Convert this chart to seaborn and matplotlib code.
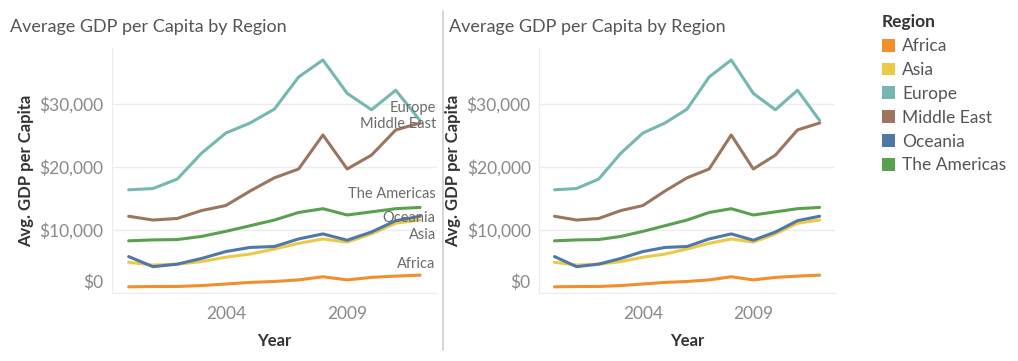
import matplotlib
matplotlib.use("Agg")
import matplotlib.pyplot as plt
import matplotlib.transforms as mtransforms
from matplotlib.patches import Patch
from matplotlib.ticker import FuncFormatter
import pandas as pd
import seaborn as sns

years = list(range(2000, 2013))
regions = ["Africa", "Asia", "Europe", "Middle East", "Oceania", "The Americas"]

africa = [1000, 1050, 1060, 1200, 1450, 1700, 1850, 2100, 2600, 2100, 2500, 2700, 2850]
asia = [4900, 4450, 4600, 5000, 5700, 6200, 7000, 7900, 8600, 8100, 9400, 11100, 11600]
europe = [16400, 16600, 18100, 22200, 25400, 27000, 29200, 34300, 37000, 31700, 29100, 32200, 27400]
middle_east = [12200, 11600, 11850, 13100, 13900, 16200, 18300, 19700, 25100, 19700, 21900, 25900, 27000]
oceania = [5800, 4200, 4600, 5500, 6600, 7250, 7400, 8600, 9400, 8400, 9700, 11500, 12200]
americas = [8300, 8450, 8500, 9000, 9800, 10700, 11600, 12800, 13400, 12400, 12900, 13400, 13600]

# end-of-line labels in the left panel (y in data units)
end_labels = ["Europe", "Middle East", "The Americas", "Oceania", "Asia", "Africa"]
end_label_y = [29400, 26800, 15700, 12000, 9300, 4600]

colors = ["#F28E2B", "#EDC948", "#76B7B2", "#9C755F", "#4E79A7", "#59A14F"]
palette = dict(zip(regions, colors))

series = [africa, asia, europe, middle_east, oceania, americas]
df = pd.DataFrame({
    "Year": years * len(regions),
    "Region": [r for r in regions for _ in years],
    "GDP": [v for s in series for v in s],
})

sns.set_style("white")
plt.rcParams["font.family"] = ["Lato", "DejaVu Sans"]

fig = plt.figure(figsize=(10.18, 3.61), dpi=100)
ax1 = fig.add_axes([0.1097, 0.188, 0.3196, 0.679])
ax2 = fig.add_axes([0.5295, 0.188, 0.2908, 0.679])

money = FuncFormatter(lambda v, p: f"${v:,.0f}")

for ax in (ax1, ax2):
    sns.lineplot(data=df, x="Year", y="GDP", hue="Region", hue_order=regions,
                 palette=palette, linewidth=2.2, ax=ax, legend=False)
    ax.set_xlim(1999.3, 2012.7)
    ax.set_ylim(0, 38900)
    ax.set_xticks([2004, 2009])
    ax.set_yticks([0, 10000, 20000, 30000])
    ax.yaxis.set_major_formatter(money)
    ax.grid(axis="y", color="#ececec", linewidth=1)
    for s in ["top", "right"]:
        ax.spines[s].set_visible(False)
    ax.spines["left"].set_color("#ececec")
    ax.spines["bottom"].set_color("#ececec")
    ax.tick_params(axis="y", length=0, labelsize=12.5, labelcolor="#8a8a8a", pad=6)
    ax.tick_params(axis="x", length=0, labelsize=12.5, labelcolor="#8a8a8a", pad=9)
    ax.set_xlabel("Year", fontsize=12, color="#333333", fontweight="bold", labelpad=8)
    ax.set_ylabel("Avg. GDP per Capita", fontsize=12, color="#333333", fontweight="bold", labelpad=4)
    fig.canvas.draw()
    lab0 = ax.get_yticklabels()[0]
    lab0.set_transform(lab0.get_transform() + mtransforms.ScaledTranslation(0, 12 / 100, fig.dpi_scale_trans))

for name, yv in zip(end_labels, end_label_y):
    ax1.text(2012.65, yv, name, ha="right", va="center", fontsize=10.5, color="#6b6b6b")

fig.text(0.0098, 0.925, "Average GDP per Capita by Region", fontsize=13, color="#555555", va="center")
fig.text(0.4410, 0.925, "Average GDP per Capita by Region", fontsize=13, color="#555555", va="center")

# separator between the two sheets
fig.add_artist(plt.Line2D([0.4352, 0.4352], [0.03, 0.97], color="#d0d0d0", linewidth=1.2))

handles = [Patch(facecolor=palette[r], edgecolor="none", label=r) for r in regions]
leg = fig.legend(handles=handles, title="Region", loc="upper left",
                 bbox_to_anchor=(0.866, 0.96), frameon=False, fontsize=12.5,
                 title_fontsize=12.5, handlelength=0.75, handleheight=0.75,
                 handletextpad=0.45, labelspacing=0.45, alignment="left",
                 borderpad=0, borderaxespad=0)
leg.get_title().set_fontweight("bold")
leg.get_title().set_color("#333333")
for t in leg.get_texts():
    t.set_color("#555555")

fig.savefig("out.png", dpi=100)
